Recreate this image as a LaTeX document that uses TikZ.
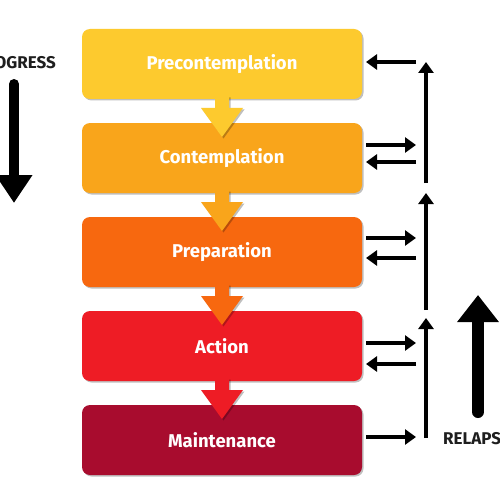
\documentclass[tikz,border=0pt]{standalone}
\usepackage{fontspec}
\setmainfont{Fira Sans}
\usetikzlibrary{arrows.meta,shadows,calc}
\definecolor{cA}{HTML}{FDCA2E}
\definecolor{cB}{HTML}{F9A51B}
\definecolor{cC}{HTML}{F7680F}
\definecolor{cD}{HTML}{EE1C25}
\definecolor{cE}{HTML}{A80C2E}
\definecolor{lbl}{HTML}{1E1E1E}
\begin{document}
\begin{tikzpicture}[x=1pt,y=-1pt,
  stage/.style={rounded corners=8pt, minimum width=280pt, minimum height=70pt,
    inner sep=0pt, outer sep=0pt, text=white,
    font=\fontsize{18.5}{22}\selectfont\bfseries,
    drop shadow={shadow xshift=1.5pt, shadow yshift=-1.5pt, opacity=0.25, fill=black}},
  downarr/.style={draw=none, drop shadow={shadow xshift=1.5pt, shadow yshift=-1.5pt, opacity=0.25, fill=black}},
  harr/.style={draw=black, line width=4pt, -{Triangle[length=11pt,width=15pt]}},
  varr/.style={draw=black, line width=4pt, -{Triangle[length=11pt,width=15pt]}},
  bigarr/.style={draw=black, line cap=round},
  side/.style={text=lbl, font=\fontsize{17}{20}\selectfont\bfseries, inner sep=0pt}
]
\useasboundingbox (0,0) rectangle (500,500);
\clip (0,0) rectangle (500,500);
\fill[white] (0,0) rectangle (500,500);

% stages
\node[stage, fill=cA] (b1) at (222,64)  {Precontemplation};
\node[stage, fill=cB] (b2) at (222,158) {Contemplation};
\node[stage, fill=cC] (b3) at (222,252) {Preparation};
\node[stage, fill=cD] (b4) at (222,346) {Action};
\node[stage, fill=cE] (b5) at (222,440) {Maintenance};

% down block arrows between stages
\foreach \a/\c in {b1/cA, b2/cB, b3/cC, b4/cD}{
  \fill[downarr, fill=\c]
    ($(\a.south)+(-7,-3)$) -- ($(\a.south)+(7,-3)$) -- ($(\a.south)+(7,9)$)
    -- ($(\a.south)+(21,9)$) -- ($(\a.south)+(0,38)$) -- ($(\a.south)+(-21,9)$)
    -- ($(\a.south)+(-7,9)$) -- cycle;
}

% right side coordinates
\coordinate (r1) at (416,62);
\coordinate (r2a) at (416,145);
\coordinate (r2b) at (416,162);
\coordinate (r3a) at (416,238);
\coordinate (r3b) at (416,258);
\coordinate (r4a) at (416,343);
\coordinate (r4b) at (416,364);
\coordinate (r5) at (416,437);

\draw[harr, shorten >=4pt] (r1) -- (b1.east |- r1);
\draw[harr, shorten <=4pt] (b2.east |- r2a) -- (r2a);
\draw[harr, shorten >=4pt] (r2b) -- (b2.east |- r2b);
\draw[harr, shorten <=4pt] (b3.east |- r3a) -- (r3a);
\draw[harr, shorten >=4pt] (r3b) -- (b3.east |- r3b);
\draw[harr, shorten <=4pt] (b4.east |- r4a) -- (r4a);
\draw[harr, shorten >=4pt] (r4b) -- (b4.east |- r4b);
\draw[harr, shorten <=4pt] (b5.east |- r5) -- (r5);

% vertical relapse path
\coordinate (v1) at (426,438);
\coordinate (v2) at (426,318);
\coordinate (v3) at (426,310);
\coordinate (v4) at (426,193);
\coordinate (v5) at (426,183);
\coordinate (v6) at (426,62);
\draw[varr] (v1) -- (v2);
\draw[varr] (v3) -- (v4);
\draw[varr] (v5) -- (v6);

% big side arrows
\node[side, anchor=east] (prog) at (56,63) {PROGRESS};
\coordinate (p1) at (14,84);
\coordinate (p2) at (14,203);
\draw[bigarr, line width=10pt, -{Triangle[length=28pt,width=35pt]}] (p1) -- (p2);

\node[side, anchor=west] (rel) at (443,439) {RELAPSE};
\coordinate (q1) at (478,412);
\coordinate (q2) at (478,295);
\draw[bigarr, line width=12pt, -{Triangle[length=27pt,width=40pt]}] (q1) -- (q2);
\end{tikzpicture}
\end{document}
